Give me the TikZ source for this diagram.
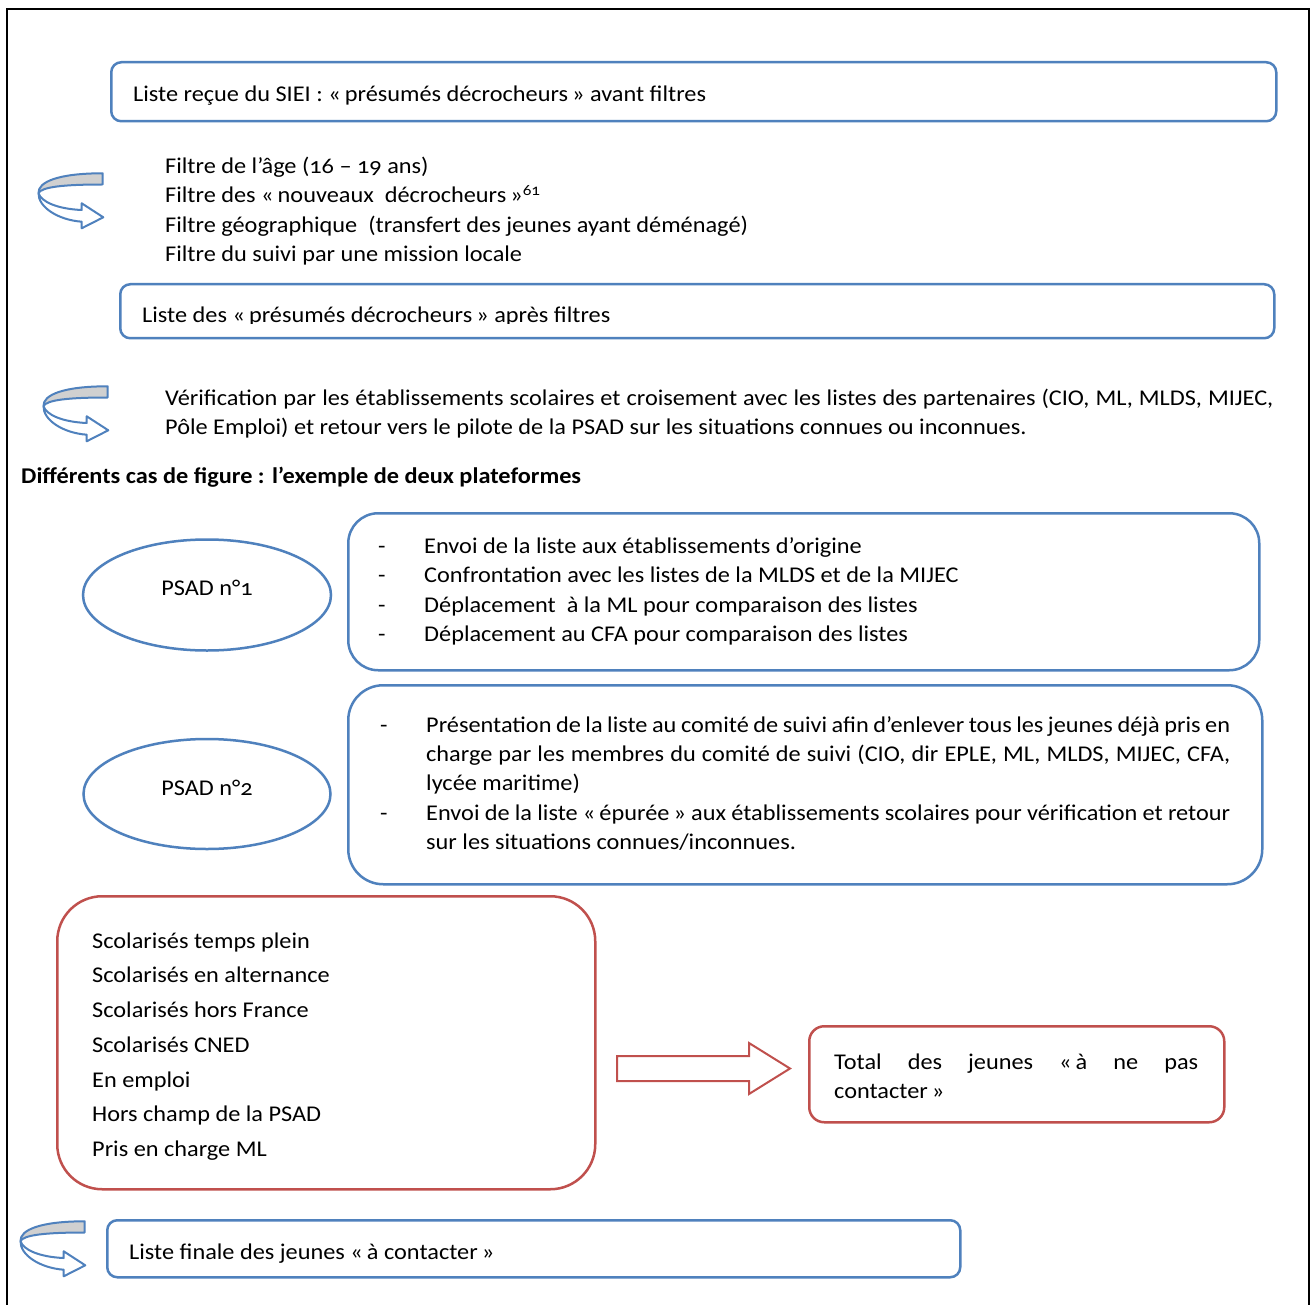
\documentclass[tikz,border=0pt]{standalone}
\usepackage{fontspec}
\setmainfont{Carlito}[Numbers=OldStyle, FakeStretch=1.08]
\definecolor{ablue}{HTML}{4F81BD}
\definecolor{ared}{HTML}{C0504D}
\definecolor{agray}{HTML}{D0D0D0}
\newcommand\gql{«\kern0.18em}
\newcommand\gqr{\kern0.18em»}
\tikzset{
  txt/.style={inner sep=0pt, anchor=base west, font=\fontsize{22.5pt}{27pt}\selectfont},
  bbox/.style={draw=ablue, line width=2.5pt, rounded corners=#1, anchor=north west, inner sep=0pt},
  rbox/.style={draw=ared, line width=2.5pt, rounded corners=#1, anchor=north west, inner sep=0pt},
  oval/.style={ellipse, draw=ablue, line width=2.5pt, inner sep=0pt},
  uturn/.pic={
    \draw[ablue, line width=2pt, fill=white, line join=round]
      (0.5,21) .. controls (0,35) and (20,48) .. (43.7,49.7) -- (43.7,56.3) -- (65.3,45.3)
      -- (43.7,31.3) -- (43.7,38) .. controls (20,37) and (3,30) .. (0.5,21) -- cycle;
    \draw[ablue, line width=2pt, fill=agray, line join=round]
      (64.7,1.3) .. controls (20,1.3) and (0,10) .. (0.5,21)
      .. controls (4,15) and (25,12.5) .. (64.7,12.5) -- cycle;
  }
}
\usetikzlibrary{shapes.geometric}
\begin{document}
\begin{tikzpicture}[x=1pt,y=-1pt]
\useasboundingbox (0,0) rectangle (1311,1305);
\fill[white] (0,0) rectangle (1311,1305);
% outer frame
\draw[line width=2pt] (7,1305) -- (7,9) -- (1309,9) -- (1309,1305);

% box 1
\node[bbox=10pt, minimum width=1165, minimum height=59] (b1) at (110,61) {};
\node[txt] (t1) at (133,102) {Liste reçue du SIEI : \gql présumés décrocheurs\gqr{} avant filtres};

% filters
\pic at (38,172) {uturn};
\node[txt] (f1) at (165,174) {Filtre de l’âge (16 – 19 ans)};
\node[txt] (f2) at (165,203) {Filtre des \gql nouveaux\ \ décrocheurs\gqr\textsuperscript{61}};
\node[txt] (f3) at (165,233) {Filtre géographique\ \ (transfert des jeunes ayant déménagé)};
\node[txt] (f4) at (165,262) {Filtre du suivi par une mission locale};

% box 2
\node[bbox=10pt, minimum width=1154, minimum height=54] (b2) at (119,283) {};
\begin{scope}
\clip (119,283) rectangle (1273,324);
\node[txt] (t2) at (142,323) {Liste des \gql présumés décrocheurs\gqr{} après filtres};
\end{scope}

% verification
\pic at (43,385) {uturn};
\node[txt] (v1) at (165,405) {\makebox[1108pt][s]{Vérification par les établissements scolaires et croisement avec les listes des partenaires (CIO, ML, MLDS, MIJEC,}};
\node[txt] (v2) at (165,434) {Pôle Emploi) et retour vers le pilote de la PSAD sur les situations connues ou inconnues.};

% heading
\node[txt, font=\fontsize{22.5pt}{27pt}\selectfont\bfseries] (h) at (21,483) {Différents cas de figure : l’exemple de deux plateformes};

% PSAD 1
\node[oval, minimum width=248, minimum height=111] (p1) at (207,595) {};
\node[txt, anchor=base] (p1t) at (207,595) {PSAD n°1};
\node[bbox=30pt, minimum width=911, minimum height=157] (b3) at (347,512) {};
\foreach \yy/\tt [count=\i] in {553/{Envoi de la liste aux établissements d’origine},
  582/{Confrontation avec les listes de la MLDS et de la MIJEC},
  612/{Déplacement\ \ à la ML pour comparaison des listes},
  641/{Déplacement au CFA pour comparaison des listes}}{
  \node[txt] (d3\i) at (378,\yy) {-};
  \node[txt] (l3\i) at (424,\yy) {\tt};
}

% PSAD 2
\node[oval, minimum width=247, minimum height=110] (p2) at (207,794) {};
\node[txt, anchor=base] (p2t) at (207,795) {PSAD n°2};
\node[bbox=35pt, minimum width=914, minimum height=199] (b4) at (347,684) {};
\node[txt] (d41) at (380,732) {-};
\node[txt] (d42) at (380,820) {-};
\node[txt] (l41) at (426,732) {\makebox[804pt][s]{Présentation de la liste au comité de suivi afin d’enlever tous les jeunes déjà pris en}};
\node[txt] (l42) at (426,761) {\makebox[804pt][s]{charge par les membres du comité de suivi (CIO, dir EPLE, ML, MLDS, MIJEC, CFA,}};
\node[txt] (l43) at (426,790) {lycée maritime)};
\node[txt] (l44) at (426,820) {\makebox[804pt][s]{Envoi de la liste \gql épurée\gqr{} aux établissements scolaires pour vérification et retour}};
\node[txt] (l45) at (426,849) {sur les situations connues/inconnues.};

% red box
\node[rbox=45pt, minimum width=538, minimum height=293] (r1) at (56,895) {};
\foreach \yy/\tt [count=\i] in {948/{Scolarisés temps plein}, 982/{Scolarisés en alternance},
  1017/{Scolarisés hors France}, 1052/{Scolarisés CNED}, 1087/{En emploi},
  1121/{Hors champ de la PSAD}, 1156/{Pris en charge ML}}{
  \node[txt] (rl\i) at (92,\yy) {\tt};
}

% block arrow
\draw[ared, line width=2pt, fill=white, line join=miter]
  (617,1056) -- (749,1056) -- (749,1043) -- (790,1068.5) -- (749,1094) -- (749,1081) -- (617,1081) -- cycle;

% total box
\node[rbox=15pt, minimum width=415, minimum height=96] (r2) at (808,1025) {};
\node[txt] (tt1) at (834,1069) {\makebox[364pt][s]{Total des jeunes \gql à ne pas}};
\node[txt] (tt2) at (834,1098) {contacter\gqr};

% final
\pic at (20,1220) {uturn};
\node[bbox=10pt, minimum width=853, minimum height=57] (b5) at (106,1219) {};
\node[txt] (fin) at (129,1259) {Liste finale des jeunes \gql à contacter\gqr};
\end{tikzpicture}
\end{document}
